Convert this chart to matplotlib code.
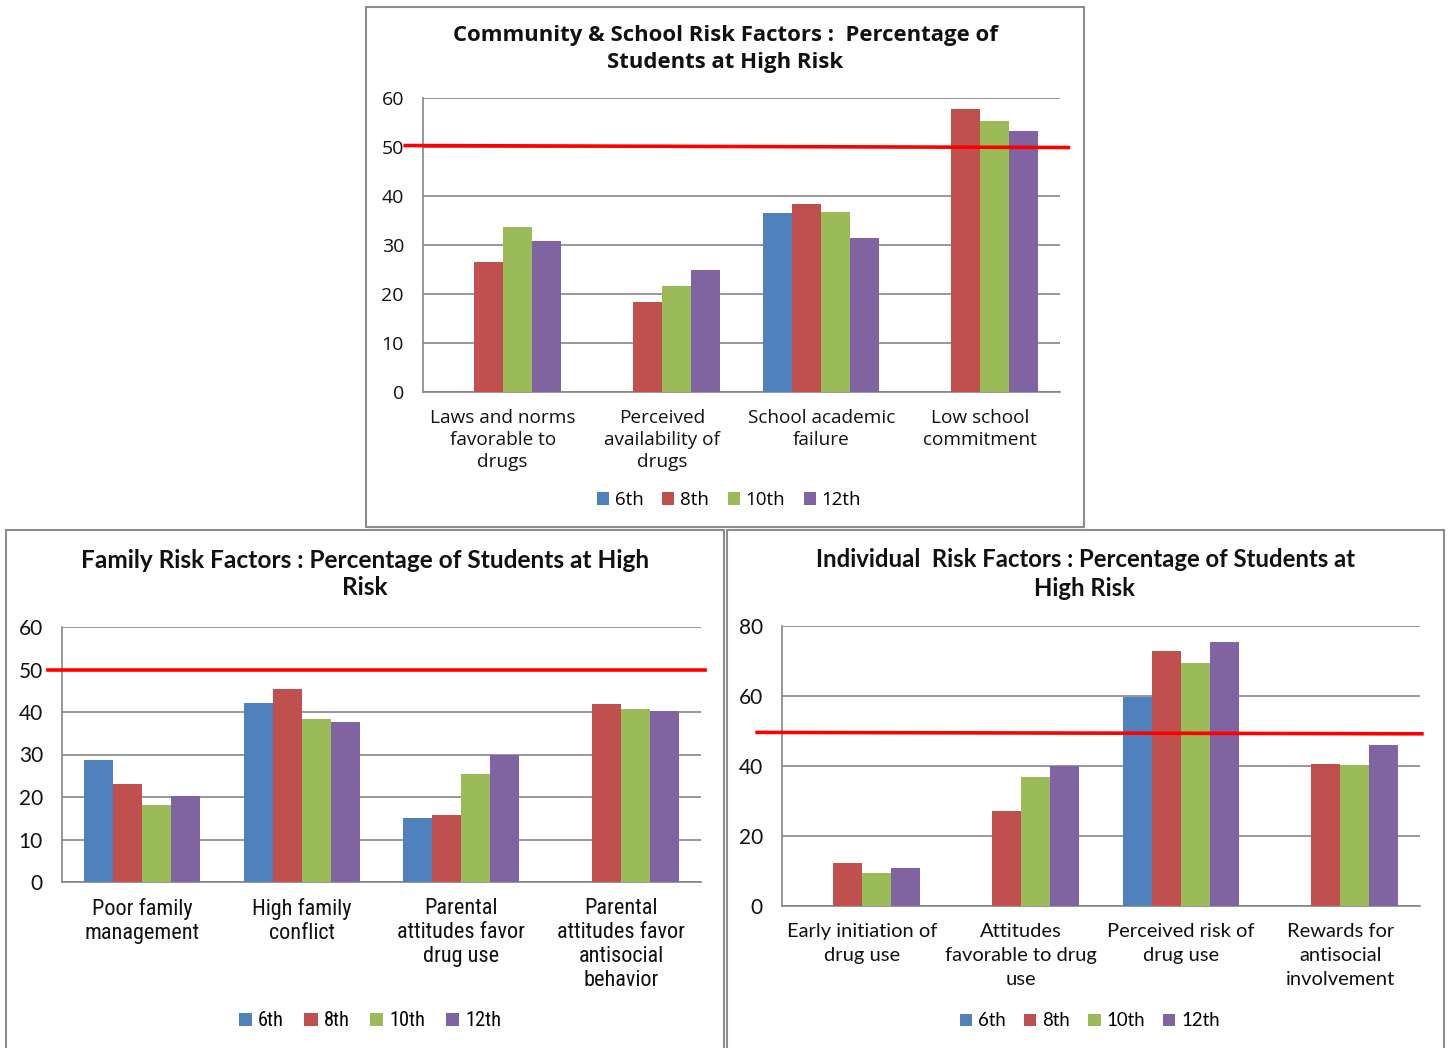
import numpy as np
import matplotlib.pyplot as plt
from matplotlib.patches import Rectangle
from matplotlib import font_manager

# ---- data ----
grades = ['6th', '8th', '10th', '12th']
colors = ['#4F81BD', '#C0504D', '#9BBB59', '#8064A2']

comm_cats = ['Laws and norms\nfavorable to\ndrugs', 'Perceived\navailability of\ndrugs',
             'School academic\nfailure', 'Low school\ncommitment']
comm_6th = [np.nan, np.nan, 36.5, np.nan]
comm_8th = [26.6, 18.3, 38.4, 57.7]
comm_10th = [33.7, 21.7, 36.8, 55.3]
comm_12th = [30.8, 25.0, 31.5, 53.3]

fam_cats = ['Poor family\nmanagement', 'High family\nconflict',
            'Parental\nattitudes favor\ndrug use', 'Parental\nattitudes favor\nantisocial\nbehavior']
fam_6th = [28.6, 42.2, 15.1, np.nan]
fam_8th = [23.1, 45.3, 15.7, 41.8]
fam_10th = [18.2, 38.3, 25.3, 40.6]
fam_12th = [20.2, 37.6, 30.0, 40.2]

ind_cats = ['Early initiation of\ndrug use', 'Attitudes\nfavorable to drug\nuse',
            'Perceived risk of\ndrug use', 'Rewards for\nantisocial\ninvolvement']
ind_6th = [np.nan, np.nan, 59.8, np.nan]
ind_8th = [12.2, 27.2, 72.9, 40.7]
ind_10th = [9.3, 37.0, 69.3, 40.2]
ind_12th = [10.9, 39.9, 75.5, 46.1]

threshold = 50

W, H = 1448, 1048


def pick_font(names, default):
    avail = {f.name for f in font_manager.fontManager.ttflist}
    for n in names:
        if n in avail:
            return n
    return default


wide_font = pick_font(['Open Sans'], 'DejaVu Sans')
narrow_font = pick_font(['Liberation Sans Narrow', 'Roboto Condensed'], 'Roboto')
mid_font = pick_font(['Lato'], 'DejaVu Sans')

fig = plt.figure(figsize=(W / 100, H / 100), dpi=100)


def fx(px):
    return px / W


def fy(py):
    return 1 - py / H


def panel_box(x0, y0, x1, y1):
    fig.patches.append(Rectangle((fx(x0), fy(y1)), fx(x1 - x0), (y1 - y0) / H,
                                 transform=fig.transFigure, fill=False,
                                 edgecolor='#8c8c8c', linewidth=1.5))


def bar_chart(rect, cats, series, ymax, ystep, title, title_xy, legend_xy,
              line_x, line_y, st):
    l, t, r, b = rect
    ax = fig.add_axes([fx(l), fy(b), fx(r - l), (b - t) / H])
    x = np.arange(len(cats))
    w = 1 / 5.5
    for i, (vals, c, g) in enumerate(zip(series, colors, grades)):
        ax.bar(x + (i - 1.5) * w, vals, width=w, color=c, linewidth=0, label=g, zorder=3)
    ax.set_xlim(-0.5, len(cats) - 0.5)
    ax.set_ylim(0, ymax)
    ax.set_yticks(np.arange(0, ymax + 1, ystep))
    ax.yaxis.grid(True, color='#868686', linewidth=1.2, zorder=0)
    ax.set_axisbelow(True)
    for s in ['top', 'right']:
        ax.spines[s].set_visible(False)
    for s in ['left', 'bottom']:
        ax.spines[s].set_color('#868686')
        ax.spines[s].set_linewidth(1.2)
    ax.tick_params(axis='y', length=0, pad=13.7, labelsize=st['tick_fs'], labelcolor='#111111')
    ax.tick_params(axis='x', length=0)
    ax.set_xticks(x)
    ax.set_xticklabels([])
    for lab in ax.get_yticklabels():
        lab.set_fontfamily(st['tick_font'])
    for xi, c in zip(x, cats):
        ax.annotate(c, xy=(xi, 0), xycoords='data', xytext=(0, -st['gap']),
                    textcoords='offset pixels', ha='center', va='top',
                    fontsize=st['fs'], family=st['font'], linespacing=st['ls'],
                    color='#111111')
    # red 50% reference line
    tr = ax.get_yaxis_transform()
    ax.plot(line_x, line_y, color='#FF0000', linewidth=2.6, transform=tr,
            clip_on=False, zorder=5)
    fig.text(fx(title_xy[0]), fy(title_xy[1]), title, ha='center', va='center',
             fontsize=st['title_fs'], fontweight='bold', family=st['title_font'],
             linespacing=st['title_ls'], color='#111111')
    handles, labels = ax.get_legend_handles_labels()
    fig.legend(handles, labels, loc='center', bbox_to_anchor=(fx(legend_xy[0]), fy(legend_xy[1])),
               ncol=4, frameon=False, handlelength=0.65, handleheight=0.65,
               handletextpad=0.3, columnspacing=1.0,
               prop={'family': st['font'], 'size': st['leg_fs']})
    return ax


panel_box(366, 7, 1084, 527)
panel_box(6, 530, 724, 1060)
panel_box(727, 530, 1444, 1060)

top_style = dict(font=wide_font, fs=13.7, ls=1.3, gap=17, tick_font=wide_font, tick_fs=14,
                 title_font=wide_font, title_fs=15.9, title_ls=1.32, leg_fs=13.5)
fam_style = dict(font=narrow_font, fs=16, ls=1.19, gap=16, tick_font=mid_font, tick_fs=15,
                 title_font=mid_font, title_fs=17.6, title_ls=1.24, leg_fs=14.7)
ind_style = dict(font=mid_font, fs=14.5, ls=1.51, gap=17, tick_font=mid_font, tick_fs=15,
                 title_font=mid_font, title_fs=17.2, title_ls=1.29, leg_fs=13.4)

bar_chart((423, 98, 1060, 392), comm_cats, [comm_6th, comm_8th, comm_10th, comm_12th],
          60, 10, 'Community & School Risk Factors :  Percentage of\nStudents at High Risk',
          (725, 49), (729, 500), [-0.028, 1.013], [threshold + 0.3, threshold - 0.1], top_style)

bar_chart((62, 627, 701, 882), fam_cats, [fam_6th, fam_8th, fam_10th, fam_12th],
          60, 10, 'Family Risk Factors : Percentage of Students at High\nRisk',
          (365, 574), (370, 1021), [-0.022, 1.006], [threshold, threshold], fam_style)

bar_chart((782, 626, 1420, 906), ind_cats, [ind_6th, ind_8th, ind_10th, ind_12th],
          80, 20, 'Individual  Risk Factors : Percentage of Students at\nHigh Risk',
          (1085, 574), (1090, 1021), [-0.039, 1.003], [threshold - 0.4, threshold - 0.8], ind_style)

fig.savefig('out.png', dpi=100)
